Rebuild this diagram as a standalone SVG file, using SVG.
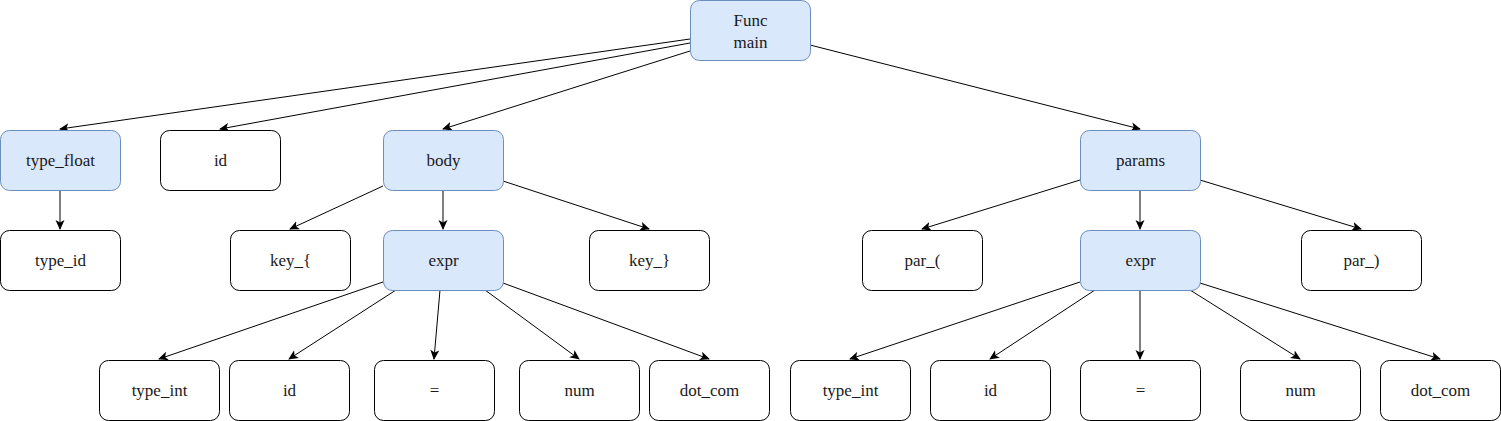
<svg xmlns="http://www.w3.org/2000/svg" width="1501" height="421" viewBox="0 0 1501 421">
<defs>
<marker id="arr" viewBox="0 0 10 10" refX="9" refY="5" markerWidth="10" markerHeight="10" markerUnits="userSpaceOnUse" orient="auto">
<path d="M0,0.5 L10,5 L0,9.5 L2.5,5 Z" fill="#000"/>
</marker>
</defs>
<style>
.n rect{fill:#fff;stroke:#000;stroke-width:1}
.b rect{fill:#dae8fc;stroke:#6c8ebf;stroke-width:1}
#edges line{stroke:#000;stroke-width:1;marker-end:url(#arr)}
</style>
<rect width="1501" height="421" fill="#fff"/>
<g id="edges">
<line x1="690" y1="39" x2="60" y2="129"/>
<line x1="690" y1="43" x2="220" y2="129"/>
<line x1="690" y1="51" x2="443" y2="129"/>
<line x1="810" y1="45" x2="1140" y2="129"/>
<line x1="60" y1="190" x2="60" y2="229"/>
<line x1="383" y1="186" x2="290" y2="229"/>
<line x1="443" y1="190" x2="443" y2="229"/>
<line x1="503" y1="181" x2="649" y2="229"/>
<line x1="1080" y1="180" x2="922" y2="229"/>
<line x1="1140" y1="190" x2="1140" y2="229"/>
<line x1="1200" y1="180" x2="1361" y2="229"/>
<line x1="383" y1="282" x2="159" y2="359"/>
<line x1="396" y1="290" x2="289" y2="359"/>
<line x1="440" y1="290" x2="434" y2="359"/>
<line x1="485" y1="290" x2="579" y2="359"/>
<line x1="503" y1="283" x2="709" y2="359"/>
<line x1="1080" y1="282" x2="850" y2="359"/>
<line x1="1095" y1="290" x2="990" y2="359"/>
<line x1="1140" y1="290" x2="1140" y2="359"/>
<line x1="1190" y1="290" x2="1300" y2="359"/>
<line x1="1200" y1="283" x2="1440" y2="359"/>
</g>
<g font-family="'Liberation Serif', 'DejaVu Serif', 'Times New Roman', Times, serif" font-size="17" fill="#1a1a1a" text-anchor="middle">
<g id="func" class="b"><rect x="690.5" y="0.5" width="120" height="60" rx="9"/><text x="750.5" y="26">Func</text><text x="750.5" y="48">main</text></g>
<g id="type_float" class="b"><rect x="0.5" y="130.5" width="120" height="60" rx="9"/><text x="60.5" y="166">type_float</text></g>
<g id="id_top" class="n"><rect x="160.5" y="130.5" width="120" height="60" rx="9"/><text x="220.5" y="166">id</text></g>
<g id="body" class="b"><rect x="383.5" y="130.5" width="120" height="60" rx="9"/><text x="443.5" y="166">body</text></g>
<g id="params" class="b"><rect x="1080.5" y="130.5" width="120" height="60" rx="9"/><text x="1140.5" y="166">params</text></g>
<g id="type_id" class="n"><rect x="0.5" y="230.5" width="120" height="60" rx="9"/><text x="60.5" y="266">type_id</text></g>
<g id="key_open" class="n"><rect x="230.5" y="230.5" width="120" height="60" rx="9"/><text x="290.5" y="266">key_{</text></g>
<g id="expr1" class="b"><rect x="383.5" y="230.5" width="120" height="60" rx="9"/><text x="443.5" y="266">expr</text></g>
<g id="key_close" class="n"><rect x="589.5" y="230.5" width="120" height="60" rx="9"/><text x="649.5" y="266">key_}</text></g>
<g id="par_open" class="n"><rect x="862.5" y="230.5" width="120" height="60" rx="9"/><text x="922.5" y="266">par_(</text></g>
<g id="expr2" class="b"><rect x="1080.5" y="230.5" width="120" height="60" rx="9"/><text x="1140.5" y="266">expr</text></g>
<g id="par_close" class="n"><rect x="1301.5" y="230.5" width="120" height="60" rx="9"/><text x="1361.5" y="266">par_)</text></g>
<g id="type_int1" class="n"><rect x="99.5" y="360.5" width="120" height="60" rx="9"/><text x="159.5" y="396">type_int</text></g>
<g id="id1" class="n"><rect x="229.5" y="360.5" width="120" height="60" rx="9"/><text x="289.5" y="396">id</text></g>
<g id="eq1" class="n"><rect x="374.5" y="360.5" width="120" height="60" rx="9"/><text x="434.5" y="396">=</text></g>
<g id="num1" class="n"><rect x="519.5" y="360.5" width="120" height="60" rx="9"/><text x="579.5" y="396">num</text></g>
<g id="dot_com1" class="n"><rect x="649.5" y="360.5" width="120" height="60" rx="9"/><text x="709.5" y="396">dot_com</text></g>
<g id="type_int2" class="n"><rect x="790.5" y="360.5" width="120" height="60" rx="9"/><text x="850.5" y="396">type_int</text></g>
<g id="id2" class="n"><rect x="930.5" y="360.5" width="120" height="60" rx="9"/><text x="990.5" y="396">id</text></g>
<g id="eq2" class="n"><rect x="1080.5" y="360.5" width="120" height="60" rx="9"/><text x="1140.5" y="396">=</text></g>
<g id="num2" class="n"><rect x="1240.5" y="360.5" width="120" height="60" rx="9"/><text x="1300.5" y="396">num</text></g>
<g id="dot_com2" class="n"><rect x="1380.5" y="360.5" width="120" height="60" rx="9"/><text x="1440.5" y="396">dot_com</text></g>
</g>
</svg>
